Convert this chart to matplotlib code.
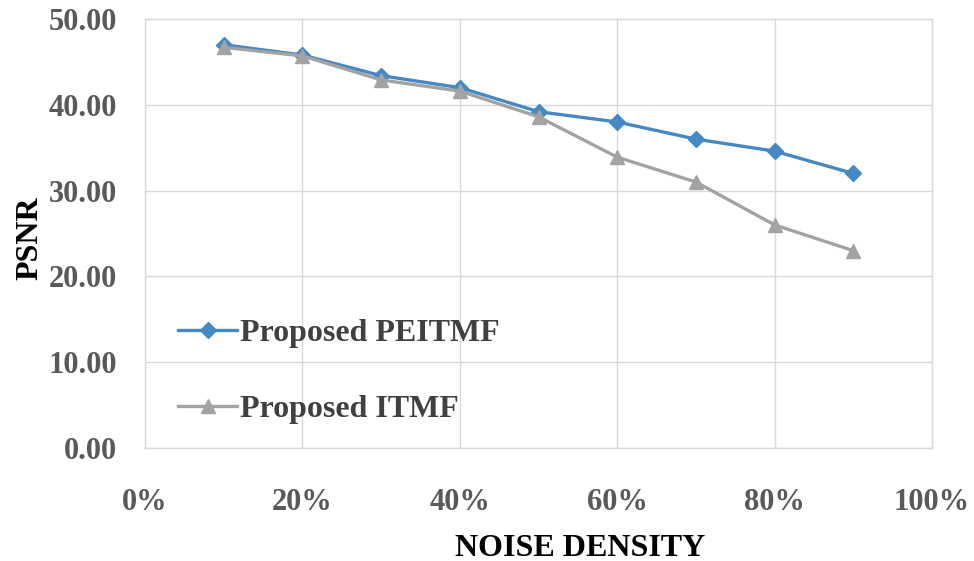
import numpy as np
import matplotlib.pyplot as plt
from matplotlib.ticker import PercentFormatter

noise = [10, 20, 30, 40, 50, 60, 70, 80, 90]
psnr_peitmf = [47.0, 45.8, 43.4, 42.0, 39.2, 38.0, 36.0, 34.6, 32.0]
psnr_itmf = [46.7, 45.7, 42.9, 41.6, 38.6, 33.9, 31.0, 26.0, 23.0]
x_ticks = [0, 20, 40, 60, 80, 100]
y_ticks = [0, 10, 20, 30, 40, 50]

plt.rcParams['font.family'] = ['Liberation Serif', 'DejaVu Serif']
plt.rcParams['font.weight'] = 'bold'

fig = plt.figure(figsize=(9.74, 5.61), dpi=100)
ax = fig.add_axes([0.1489, 0.2014, 0.808, 0.7647])

blue = '#4689c2'
gray = '#a3a3a3'
ax.plot(noise, psnr_peitmf, color=blue, lw=2.4, marker='D', ms=8,
        label='Proposed PEITMF', zorder=3)
ax.plot(noise, psnr_itmf, color=gray, lw=2.4, marker='^', ms=10,
        label='Proposed ITMF', zorder=4)

ax.set_xlim(0, 100)
ax.set_ylim(0, 50)
ax.set_xticks(x_ticks)
ax.set_yticks(y_ticks)
ax.xaxis.set_major_formatter(PercentFormatter(decimals=0))
ax.set_yticklabels(['%.2f' % v for v in y_ticks])
ax.grid(True, color='#d9d9d9', lw=1.0)
ax.set_axisbelow(True)
for s in ax.spines.values():
    s.set_color('#d9d9d9')
    s.set_linewidth(1.0)
ax.tick_params(length=0, labelsize=22, labelcolor='#595959')
ax.tick_params(axis='y', pad=20)
ax.tick_params(axis='x', pad=29)

ax.set_ylabel('PSNR', fontsize=23, fontweight='bold', color='black')
ax.yaxis.set_label_coords(-0.128, 0.49)
ax.set_xlabel('NOISE DENSITY', fontsize=23, fontweight='bold', color='black')
ax.xaxis.set_label_coords(0.553, -0.2)

leg = ax.legend(loc='center left', bbox_to_anchor=(0.042, 0.178), frameon=False,
                fontsize=23, handlelength=1.85, handletextpad=0.1,
                labelspacing=1.45, borderaxespad=0, borderpad=0)
for t in leg.get_texts():
    t.set_color('#404040')

fig.savefig('out.png', dpi=100)
